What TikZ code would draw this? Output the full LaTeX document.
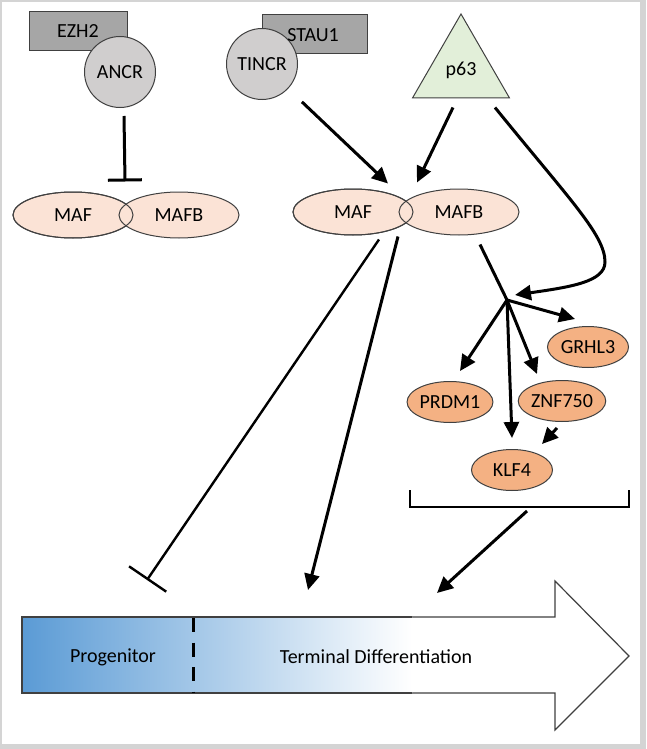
\documentclass[tikz,border=0pt]{standalone}
\usepackage{fontspec}
\setmainfont{Carlito}
\usepackage{tikz}
\usetikzlibrary{arrows.meta,shapes.geometric}
\definecolor{framegray}{HTML}{D4D4D4}
\definecolor{boxgray}{HTML}{A6A6A6}
\definecolor{rnagray}{HTML}{D0CECE}
\definecolor{mafpink}{HTML}{FBE3D6}
\definecolor{tforange}{HTML}{F4B183}
\definecolor{p63green}{HTML}{E2EFD9}
\definecolor{progblue}{HTML}{5B9BD5}
\definecolor{edgegray}{HTML}{404040}

\begin{document}
\begin{tikzpicture}
            [every node/.style={inner sep=0pt, font=\fontsize{20}{24}\selectfont},
             protein/.style={rectangle, minimum height=39pt, fill=boxgray, draw=edgegray, line width=1pt},
             rna/.style={circle, minimum size=71pt, fill=rnagray, draw=edgegray, line width=1pt},
             mafnode/.style={ellipse, minimum width=120pt, minimum height=46pt, fill=mafpink, draw=edgegray, line width=1pt},
             tfnode/.style={ellipse, minimum width=81pt, minimum height=41pt, fill=tforange, draw=edgegray, line width=1pt},
             act/.style={line width=3pt, -{Triangle[length=16pt,width=15pt]}},
             inhib/.style={line width=3pt, -{Bar[width=34pt]}}]
                \useasboundingbox (0pt, 0pt) rectangle (646pt, -749pt);
                \fill [framegray] (0pt, 0pt) rectangle (646pt, -749pt);
                \fill [white] (2pt, -2pt) rectangle (640pt, -744pt);
                % left complex
                \node (ezh2) [protein, minimum width=98pt] at (78pt, -31.5pt) {EZH2};
                \node (ancr) [rna] at (120pt, -72pt) {ANCR};
                \node (maf1) [mafnode] at (73pt, -215pt) {};
                \node (mafb1) [mafnode] at (179pt, -215pt) {MAFB};
                \draw [edgegray, line width=1pt] (maf1.center) ellipse [x radius=60pt, y radius=23pt];
                \node (maf1text) at (maf1.center) {MAF};
                % middle complex
                \node (stau1) [protein, minimum width=105pt] at (314.5pt, -34.5pt) {};
                \node (tincr) [rna] at (262pt, -64pt) {TINCR};
                \node (stau1text) at (313pt, -35pt) {STAU1};
                \node (p63) [regular polygon, regular polygon sides=3, minimum size=112pt, fill=p63green, draw=edgegray, line width=1pt] at (461pt, -70pt) {p63};
                \node (maf2) [mafnode] at (353pt, -212pt) {};
                \node (mafb2) [mafnode] at (459pt, -212pt) {MAFB};
                \draw [edgegray, line width=1pt] (maf2.center) ellipse [x radius=60pt, y radius=23pt];
                \node (maf2text) at (maf2.center) {MAF};
                % targets
                \node (grhl3) [tfnode] at (588pt, -347pt) {GRHL3};
                \node (prdm1) [tfnode] at (450pt, -402pt) {PRDM1};
                \node (znf750) [tfnode] at (562pt, -401pt) {ZNF750};
                \node (klf4) [tfnode] at (512pt, -470pt) {KLF4};
                \coordinate (hub) at (507pt, -300pt);
                \coordinate (bracket) at (519.5pt, -507pt);
                % differentiation arrow
                \draw [edgegray, line width=1.2pt, fill=white] (22pt, -617pt) -- (555pt, -617pt) -- (555pt, -581pt) -- (629pt, -656pt) -- (555pt, -730pt) -- (555pt, -693pt) -- (22pt, -693pt) -- cycle;
                \shade [left color=progblue, right color=white] (22.6pt, -617.6pt) rectangle (412pt, -692.4pt);
                \draw [edgegray, line width=1.2pt] (412pt, -617pt) -- (22pt, -617pt) -- (22pt, -693pt) -- (412pt, -693pt);
                \draw [line width=3pt, dash pattern=on 14pt off 10.5pt] (193pt, -618pt) -- (193pt, -693pt);
                \node (progenitor) at (113pt, -657pt) {Progenitor};
                \node (terminal) at (376pt, -657pt) {Terminal Differentiation};
                \coordinate (blockpt) at (147pt, -580pt);
                \coordinate (diffpt) at (308pt, -590pt);
                \coordinate (bracketpt) at (437pt, -593pt);
                % connectors
                \draw [inhib] ([xshift=4pt, yshift=-8pt]ancr.south) to ([xshift=52pt, yshift=10pt]maf1.north);
                \draw [act, shorten <=19pt] (tincr) to ([xshift=35pt, yshift=5pt]maf2.north);
                \draw [act] ([xshift=-8pt, yshift=-9pt]p63.south) to ([xshift=-42pt, yshift=6pt]mafb2.north);
                \draw [act] ([xshift=34pt, yshift=-9pt]p63.south) .. controls (570pt, -200pt) and (605pt, -235pt) .. (605pt, -262pt) .. controls (605pt, -282pt) and (570pt, -287pt) .. ([xshift=8pt, yshift=5pt]hub);
                \draw [line width=3pt] ([xshift=21pt, yshift=-9pt]mafb2.south) to (hub);
                \draw [act] (hub) to ([xshift=-13pt, yshift=7pt]grhl3.north);
                \draw [act] (hub) to ([xshift=10pt, yshift=10pt]prdm1.north);
                \draw [act] (hub) to ([xshift=-25pt, yshift=6pt]znf750.north);
                \draw [act] (hub) to ([yshift=11pt]klf4.north);
                \draw [act] ([xshift=-5pt, yshift=-6pt]znf750.south) to ([xshift=30pt, yshift=5pt]klf4.north);
                \draw [line width=2.8pt] ([xshift=-109.5pt, yshift=17pt]bracket) -- ([xshift=-109.5pt]bracket) -- ([xshift=109.5pt]bracket) -- ([xshift=109.5pt, yshift=17pt]bracket);
                \draw [inhib, line width=2.4pt, -{Bar[width=45pt]}] ([xshift=26pt, yshift=-4pt]maf2.south) to (blockpt);
                \draw [act] ([xshift=45pt, yshift=-1pt]maf2.south) to (diffpt);
                \draw [act] ([xshift=7.5pt, yshift=-4pt]bracket) to (bracketpt);
            \end{tikzpicture}
\end{document}
